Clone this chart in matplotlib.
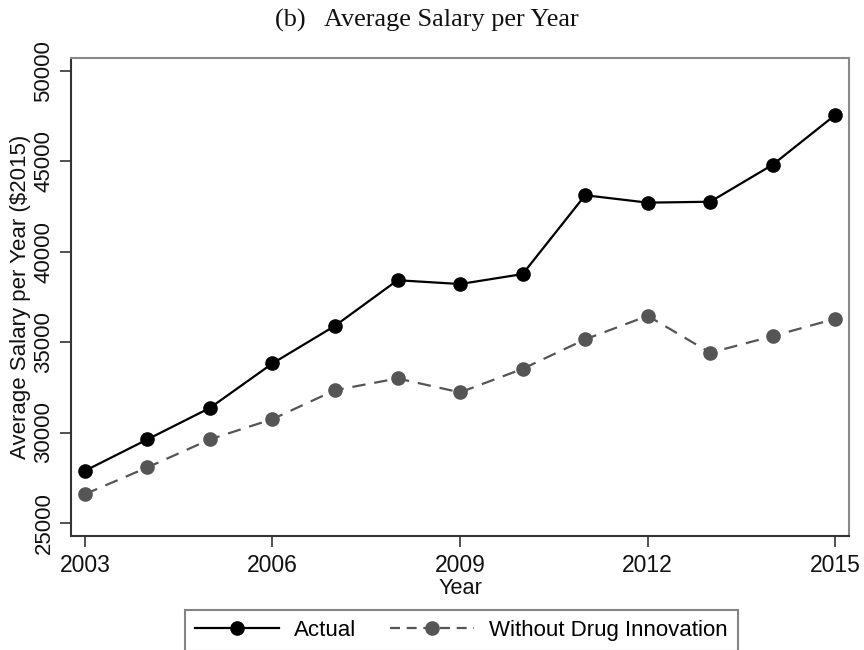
import matplotlib
matplotlib.use("Agg")
import matplotlib.pyplot as plt
from matplotlib.lines import Line2D

years = [2003, 2004, 2005, 2006, 2007, 2008, 2009, 2010, 2011, 2012, 2013, 2014, 2015]
actual = [27880, 29620, 31360, 33820, 35900, 38420, 38210, 38760, 43120, 42710, 42760, 44810, 47560]
without_innovation = [26590, 28070, 29620, 30740, 32340, 32990, 32220, 33520, 35150, 36450, 34410, 35330, 36290]

x_ticks = [2003, 2006, 2009, 2012, 2015]
y_ticks = [25000, 30000, 35000, 40000, 45000, 50000]

plt.rcParams["font.family"] = ["Liberation Sans", "DejaVu Sans"]

fig = plt.figure(figsize=(8.64, 6.5), dpi=100)
ax = fig.add_axes([0.082, 0.175, 0.901, 0.736])

ax.plot(years, actual, color="black", lw=1.6, marker="o", ms=9.5,
        markerfacecolor="black", markeredgecolor="black", zorder=3)
ax.plot(years, without_innovation, color="#555555", lw=1.6, ls=(0, (6, 4)),
        marker="o", ms=9.5, markerfacecolor="#555555", markeredgecolor="#555555", zorder=3)

ax.set_xlim(2002.776, 2015.224)
ax.set_ylim(24264, 50716)
ax.set_xticks(x_ticks)
ax.set_yticks(y_ticks)
ax.set_xticklabels([str(t) for t in x_ticks], fontsize=16.5)
ax.set_yticklabels([str(t) for t in y_ticks], fontsize=16, rotation=90, va="center")
ax.tick_params(axis="both", direction="out", length=8, width=1.2, colors="#333333",
               labelcolor="#111111")
ax.tick_params(axis="x", pad=4.8)
ax.tick_params(axis="y", pad=3.8)

for side in ["left", "bottom"]:
    ax.spines[side].set_color("#333333")
    ax.spines[side].set_linewidth(1.5)
for side in ["top", "right"]:
    ax.spines[side].set_color("#888888")
    ax.spines[side].set_linewidth(1.5)

ax.set_xlabel("Year", fontsize=15.7, color="#111111", va="top")
ax.xaxis.set_label_coords(0.5, -0.087)
ax.set_ylabel("Average Salary per Year ($2015)", fontsize=16, color="#111111", va="center")
ax.yaxis.set_label_coords(-0.065, 0.5)

fig.text(0.494, 0.968, "(b)   Average Salary per Year", ha="center", va="center",
         fontsize=18.9, family=["Liberation Serif", "DejaVu Serif"], color="#111111")

handles = [
    Line2D([], [], color="black", lw=1.6, marker="o", ms=9.5),
    Line2D([], [], color="#555555", lw=1.6, ls=(0, (4.5, 3)), marker="o", ms=9.5),
]
leg = fig.legend(handles, ["Actual", "Without Drug Innovation"], loc="upper center",
                 bbox_to_anchor=(0.534, 0.0615), borderaxespad=0, ncol=2, fontsize=16,
                 frameon=True, fancybox=False, edgecolor="#666666", handlelength=3.8,
                 columnspacing=1.5, borderpad=0.45, handletextpad=0.68)
leg.get_frame().set_linewidth(1.5)

fig.savefig("out.png", dpi=100)
